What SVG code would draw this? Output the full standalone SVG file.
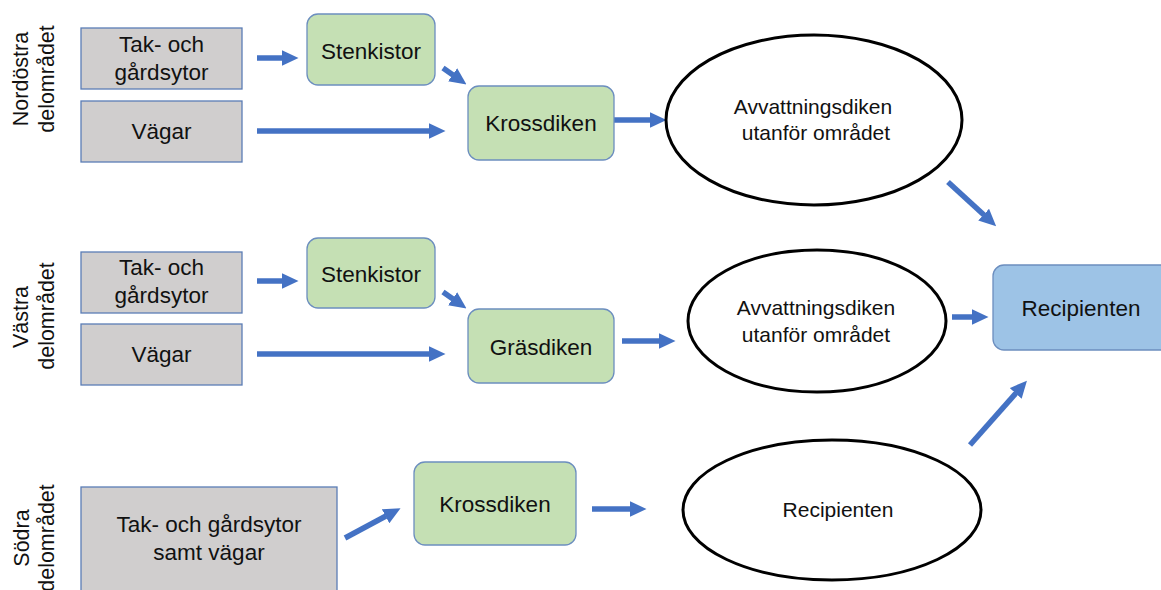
<svg xmlns="http://www.w3.org/2000/svg" width="1161" height="590" viewBox="0 0 1161 590">
<style>
text{font-family:"Liberation Sans",Arial,sans-serif;fill:#111;text-anchor:middle}
.lbl{font-size:22.5px}
.ell{font-size:21px}
.side{font-size:21.5px;dominant-baseline:central}
.gray{fill:#D0CECE;stroke:#5B7DB6;stroke-width:1.3}
.green{fill:#C5E0B4;stroke:#6C8EBF;stroke-width:1.3}
.blue{fill:#9DC3E6;stroke:#6C8EBF;stroke-width:1.3}
.oval{fill:#fff;stroke:#000;stroke-width:3}
.arr{stroke:#4472C4;stroke-width:5.5;fill:none;marker-end:url(#ah)}
</style>
<defs>
<marker id="ah" markerUnits="userSpaceOnUse" markerWidth="17" markerHeight="16" viewBox="0 0 17 16" refX="0.5" refY="8" orient="auto">
<path d="M0,0 L17,8 L0,16 z" fill="#4472C4"/>
</marker>
</defs>
<rect width="1161" height="590" fill="#fff"/>

<g id="side-labels">
<text class="side" transform="translate(21,79) rotate(-90)">Nordöstra</text>
<text class="side" transform="translate(47,79) rotate(-90)">delområdet</text>
<text class="side" transform="translate(21,317) rotate(-90)">Västra</text>
<text class="side" transform="translate(47,316) rotate(-90)">delområdet</text>
<text class="side" transform="translate(22,538) rotate(-90)">Södra</text>
<text class="side" transform="translate(47,538) rotate(-90)">delområdet</text>
</g>

<g id="connectors">
<line class="arr" x1="257" y1="58" x2="282" y2="58"/>
<line class="arr" x1="257" y1="131" x2="429" y2="131"/>
<line class="arr" x1="614" y1="120" x2="650" y2="120"/>
<line class="arr" x1="443" y1="68" x2="453" y2="75"/>
<line class="arr" x1="257" y1="281" x2="282" y2="281"/>
<line class="arr" x1="257" y1="354" x2="429" y2="354"/>
<line class="arr" x1="622" y1="341" x2="659" y2="341"/>
<line class="arr" x1="443" y1="292" x2="453" y2="299"/>
<line class="arr" x1="952" y1="317" x2="972" y2="317"/>
<line class="arr" x1="592" y1="509" x2="630" y2="509"/>
<line class="arr" x1="345" y1="538" x2="386" y2="516"/>
<line class="arr" x1="948" y1="182" x2="984" y2="215"/>
<line class="arr" x1="970" y1="445" x2="1016" y2="393"/>
</g>

<g id="ne-tak"><rect class="gray" x="81" y="28" width="161" height="61"/><text class="lbl" x="161.5" y="52">Tak- och</text><text class="lbl" x="161.5" y="80">gårdsytor</text></g>
<g id="ne-vagar"><rect class="gray" x="81" y="101" width="161" height="61"/><text class="lbl" x="161.5" y="139">Vägar</text></g>
<g id="ne-stenkistor"><rect class="green" x="307" y="14" width="128" height="71" rx="11"/><text class="lbl" x="371" y="59">Stenkistor</text></g>
<g id="ne-krossdiken"><rect class="green" x="468" y="86" width="146" height="74" rx="11"/><text class="lbl" x="541" y="131">Krossdiken</text></g>
<g id="ne-avvattning"><ellipse class="oval" cx="814" cy="120" rx="148" ry="85"/><text class="ell" x="813" y="114">Avvattningsdiken</text><text class="ell" x="816" y="140">utanför området</text></g>

<g id="w-tak"><rect class="gray" x="81" y="252" width="161" height="61"/><text class="lbl" x="161.5" y="275">Tak- och</text><text class="lbl" x="161.5" y="303">gårdsytor</text></g>
<g id="w-vagar"><rect class="gray" x="81" y="324" width="161" height="61"/><text class="lbl" x="161.5" y="362">Vägar</text></g>
<g id="w-stenkistor"><rect class="green" x="307" y="238" width="128" height="70" rx="11"/><text class="lbl" x="371" y="282">Stenkistor</text></g>
<g id="w-grasdiken"><rect class="green" x="468" y="309" width="146" height="74" rx="11"/><text class="lbl" x="541" y="355">Gräsdiken</text></g>
<g id="w-avvattning"><ellipse class="oval" cx="817" cy="321" rx="129" ry="71"/><text class="ell" x="816" y="315">Avvattningsdiken</text><text class="ell" x="816" y="342">utanför området</text></g>

<g id="recipienten-box"><rect class="blue" x="993" y="265" width="180" height="85" rx="11"/><text class="lbl" x="1081" y="316">Recipienten</text></g>

<g id="s-tak"><rect class="gray" x="81" y="487" width="256" height="104"/><text class="lbl" x="209" y="532">Tak- och gårdsytor</text><text class="lbl" x="209" y="560">samt vägar</text></g>
<g id="s-krossdiken"><rect class="green" x="414" y="462" width="162" height="83" rx="11"/><text class="lbl" x="495" y="512">Krossdiken</text></g>
<g id="s-recipienten"><ellipse class="oval" cx="832" cy="510" rx="149" ry="70"/><text class="ell" x="838" y="517">Recipienten</text></g>
</svg>
